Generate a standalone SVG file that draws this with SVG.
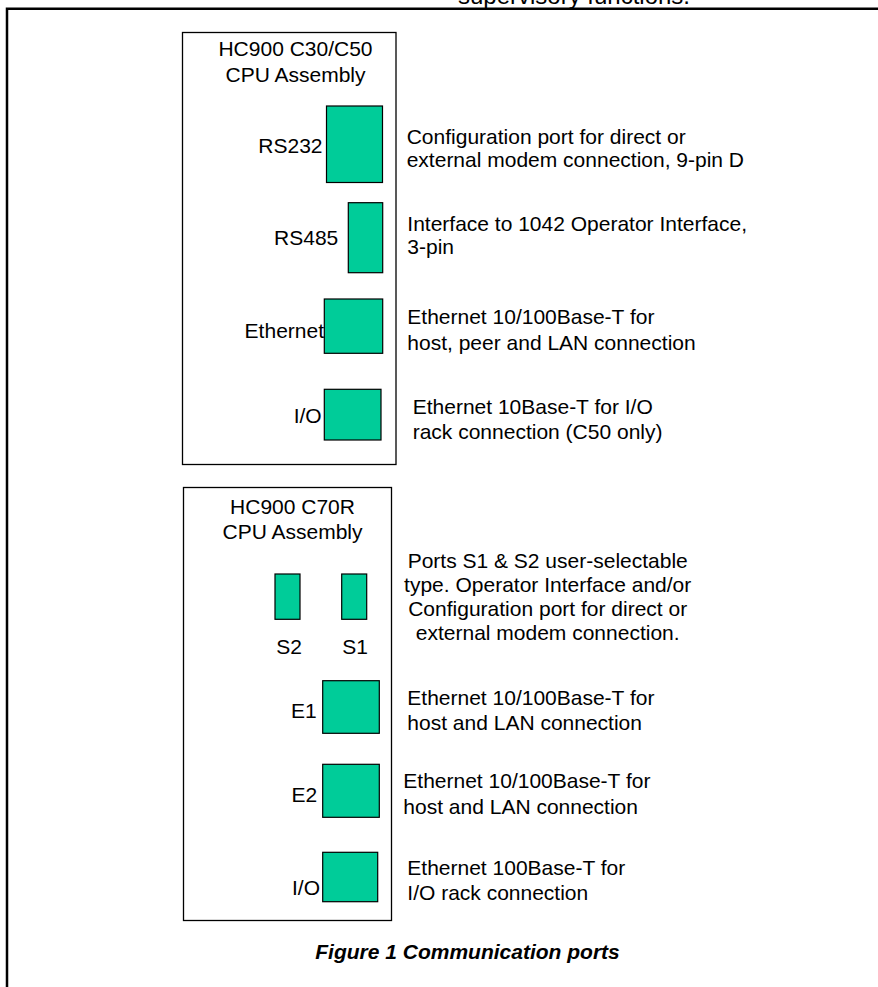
<svg xmlns="http://www.w3.org/2000/svg" width="878" height="987" viewBox="0 0 878 987">
<style>
text{font-family:"Liberation Sans",Arial,sans-serif;font-size:21px;fill:#000}
.e{text-anchor:end}
.m{text-anchor:middle}
.box{fill:#fff;stroke:#000;stroke-width:1.3}
.port{fill:#00CC99;stroke:#000;stroke-width:1.2}
.cap{font-weight:bold;font-style:italic}
</style>
<rect width="878" height="987" fill="#fff"/>
<text x="574" y="3.5" class="m" style="font-size:24px">supervisory functions.</text>
<path d="M7,987 V8.7 H878" fill="none" stroke="#000" stroke-width="2.5"/>

<g id="cpu-c30-c50">
<rect class="box" x="182.5" y="32.5" width="213.5" height="432"/>
<text x="295.5" y="56" class="m">HC900 C30/C50</text>
<text x="295.5" y="81.5" class="m">CPU Assembly</text>
</g>
<g id="port-rs232">
<rect class="port" x="326.5" y="106" width="56" height="76.5"/>
<text x="322.5" y="152.5" class="e">RS232</text>
</g>
<g id="port-rs485">
<rect class="port" x="348.3" y="202.7" width="34.4" height="70"/>
<text x="338.3" y="245" class="e">RS485</text>
</g>
<g id="port-ethernet">
<rect class="port" x="324.3" y="299" width="58.4" height="54.3"/>
<text x="324" y="338.3" class="e">Ethernet</text>
</g>
<g id="port-io1">
<rect class="port" x="324.3" y="389.3" width="56.7" height="50.7"/>
<text x="321.7" y="423.3" class="e">I/O</text>
</g>
<g id="desc1">
<text x="406.7" y="143.5">Configuration port for direct or</text>
<text x="406.7" y="166.5">external modem connection, 9-pin D</text>
<text x="407.3" y="231">Interface to 1042 Operator Interface,</text>
<text x="407.3" y="253.5">3-pin</text>
<text x="407.3" y="324">Ethernet 10/100Base-T for</text>
<text x="407.3" y="350">host, peer and LAN connection</text>
<text x="412.7" y="413.5">Ethernet 10Base-T for I/O</text>
<text x="412.7" y="439">rack connection (C50 only)</text>
</g>

<g id="cpu-c70r">
<rect class="box" x="183.5" y="487.5" width="208" height="433"/>
<text x="292.5" y="514.3" class="m">HC900 C70R</text>
<text x="292.5" y="539.3" class="m">CPU Assembly</text>
</g>
<g id="port-s2">
<rect class="port" x="275" y="574" width="25" height="45.3"/>
<text x="289" y="654" class="m">S2</text>
</g>
<g id="port-s1">
<rect class="port" x="341.7" y="574" width="25" height="45.3"/>
<text x="355" y="654" class="m">S1</text>
</g>
<g id="port-e1">
<rect class="port" x="322.7" y="680.7" width="56.6" height="52.6"/>
<text x="316.7" y="718.3" class="e">E1</text>
</g>
<g id="port-e2">
<rect class="port" x="322.7" y="764.3" width="56.6" height="53"/>
<text x="317.2" y="801.7" class="e">E2</text>
</g>
<g id="port-io2">
<rect class="port" x="322.7" y="852.3" width="55" height="49.4"/>
<text x="320" y="895" class="e">I/O</text>
</g>
<g id="desc2">
<text x="547.7" y="567.5" class="m">Ports S1 &amp; S2 user-selectable</text>
<text x="547.7" y="591.5" class="m">type. Operator Interface and/or</text>
<text x="547.7" y="615.5" class="m">Configuration port for direct or</text>
<text x="547.7" y="639.5" class="m">external modem connection.</text>
<text x="407.3" y="705">Ethernet 10/100Base-T for</text>
<text x="407.3" y="730">host and LAN connection</text>
<text x="403.3" y="788.3">Ethernet 10/100Base-T for</text>
<text x="403.3" y="814">host and LAN connection</text>
<text x="407.3" y="875">Ethernet 100Base-T for</text>
<text x="407.3" y="900">I/O rack connection</text>
</g>
<g id="connectors"></g>
<text x="467.5" y="959" class="m cap">Figure 1 Communication ports</text>
</svg>
